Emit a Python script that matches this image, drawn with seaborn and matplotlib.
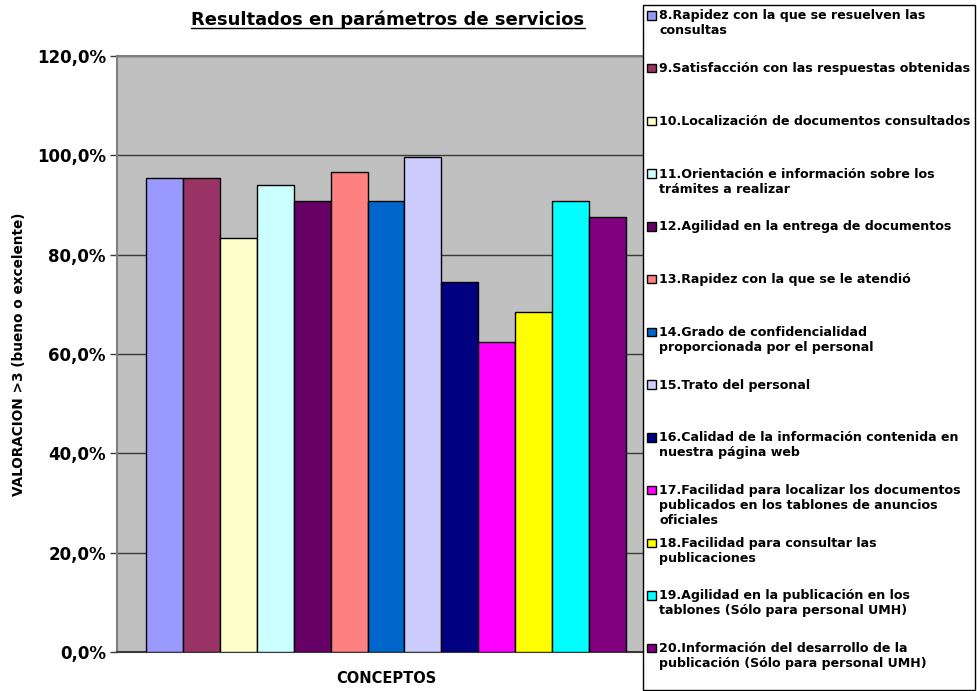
import matplotlib
matplotlib.use("Agg")
import matplotlib.pyplot as plt
import seaborn as sns
import pandas as pd
from matplotlib.ticker import FuncFormatter
from matplotlib.legend_handler import HandlerPatch
from matplotlib.lines import Line2D

# datos
conceptos = [
    "8.Rapidez con la que se resuelven las\nconsultas",
    "9.Satisfacción con las respuestas obtenidas",
    "10.Localización de documentos consultados",
    "11.Orientación e información sobre los\ntrámites a realizar",
    "12.Agilidad en la entrega de documentos",
    "13.Rapidez con la que se le atendió",
    "14.Grado de confidencialidad\nproporcionada por el personal",
    "15.Trato del personal",
    "16.Calidad de la información contenida en\nnuestra página web",
    "17.Facilidad para localizar los documentos\npublicados en los tablones de anuncios\noficiales",
    "18.Facilidad para consultar las\npublicaciones",
    "19.Agilidad en la publicación en los\ntablones (Sólo para personal UMH)",
    "20.Información del desarrollo de la\npublicación (Sólo para personal UMH)",
]
valores = [0.954, 0.954, 0.833, 0.940, 0.908, 0.967, 0.908, 0.997, 0.744, 0.625, 0.685, 0.908, 0.876]
colores = ["#9999FF", "#993366", "#FFFFCC", "#CCFFFF", "#660066", "#FF8080", "#0066CC",
           "#CCCCFF", "#000080", "#FF00FF", "#FFFF00", "#00FFFF", "#800080"]
yticks = [0.0, 0.2, 0.4, 0.6, 0.8, 1.0, 1.2]


class HandlerPrimeraLinea(HandlerPatch):
    # sube el cuadrito para alinearlo con la primera linea del texto
    def __init__(self, dy, **kw):
        super().__init__(**kw)
        self.dy = dy

    def create_artists(self, legend, orig_handle, xdescent, ydescent, width, height, fontsize, trans):
        return super().create_artists(legend, orig_handle, xdescent, ydescent - self.dy * fontsize,
                                      width, height, fontsize, trans)


sns.set_style("white")
plt.rcParams['font.family'] = ['DejaVu Sans']
plt.rcParams['text.color'] = 'black'
plt.rcParams['axes.labelcolor'] = 'black'
plt.rcParams['ytick.color'] = 'black'

df = pd.DataFrame({'concepto': conceptos, 'valor': valores})

fig = plt.figure(figsize=(9.77, 6.91), dpi=100)
ax = fig.add_axes([117 / 977, 1 - 652 / 691, 538 / 977, 596 / 691])

sns.barplot(data=df, x='concepto', y='valor', hue='concepto', palette=colores, saturation=1,
            width=1, edgecolor='black', linewidth=1, legend=False, ax=ax, zorder=3)

ax.set_facecolor('#C0C0C0')
ax.set_xlim(-0.5 - 0.78, len(conceptos) - 0.5 + 0.78)
ax.set_ylim(0, 1.2)
ax.set_yticks(yticks)
ax.yaxis.set_major_formatter(FuncFormatter(lambda v, _: f"{v*100:.1f}%".replace('.', ',')))
ax.grid(axis='y', color='#3a3a3a', linewidth=1)
ax.set_axisbelow(True)
ax.set_xticks([])
for s in ax.spines.values():
    s.set_color('#808080')
    s.set_linewidth(1.5)
ax.spines['bottom'].set_color('#3a3a3a')
ax.tick_params(axis='y', left=True, length=5, width=1, color='#3a3a3a', pad=3)
for lab in ax.get_yticklabels():
    lab.set_fontweight('bold')
    lab.set_fontsize(12)

ax.set_xlabel('CONCEPTOS', fontsize=10.5, fontweight='bold', labelpad=14)
ax.set_ylabel('VALORACION >3 (bueno o excelente)', fontsize=9.8, fontweight='bold', labelpad=8)

titulo = fig.text(388 / 977, 1 - 20 / 691, 'Resultados en parámetros de servicios',
                  ha='center', va='center', fontsize=13, fontweight='bold')

# leyenda: todas las entradas con 3 lineas para paso constante
etiquetas = []
for c in conceptos:
    n = c.count('\n') + 1
    etiquetas.append(c + '\n ' * (3 - n))
handles = ax.patches[:len(conceptos)]
hmap = {h: HandlerPrimeraLinea(1.27) for h in handles}
leg = fig.legend(handles, etiquetas, loc='upper left', bbox_to_anchor=(643 / 977, 1 - 5 / 691),
                 bbox_transform=fig.transFigure, frameon=True, fancybox=False, framealpha=1,
                 edgecolor='black', borderaxespad=0, borderpad=0.35, labelspacing=0.77,
                 handlelength=0.65, handleheight=0.65, handletextpad=0.3,
                 prop={'weight': 'bold', 'size': 9.1}, handler_map=hmap)
leg.get_frame().set_linewidth(1)

# subrayado del titulo
fig.canvas.draw()
bb = titulo.get_window_extent().transformed(fig.transFigure.inverted())
fig.add_artist(Line2D([bb.x0, bb.x1], [bb.y0 + 0.002, bb.y0 + 0.002], color='black', linewidth=1,
                      transform=fig.transFigure))

fig.savefig('out.png', dpi=100)
